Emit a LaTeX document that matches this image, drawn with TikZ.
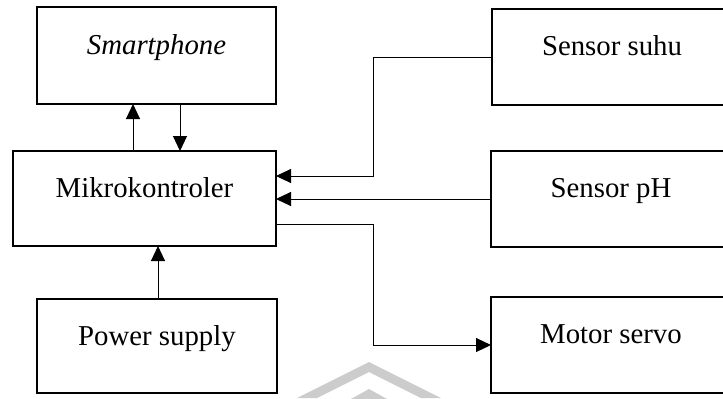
\documentclass[tikz,border=0pt]{standalone}
\usepackage{fontspec}
\setmainfont{Liberation Serif}
\usetikzlibrary{arrows.meta}
\begin{document}
\begin{tikzpicture}[x=0.5pt,y=-0.5pt,
  blok/.style={draw,line width=1.1pt,rectangle,inner sep=0pt,outer sep=0pt},
  teks/.style={anchor=base,inner sep=0pt,font=\fontsize{14.4}{17}\selectfont},
  panah/.style={line width=0.5pt,-{Triangle[length=7.5pt,width=7pt]}},
  tanda/.style={fill=black!20,draw=none}]
\useasboundingbox (0,0) rectangle (723,398);
\begin{scope}
\clip (0,0) rectangle (723,398);
% faint chevrons along the bottom edge
\fill[tanda] (297,398) -- (369,362) -- (441,398) -- (421,398) -- (369,372) -- (317,398) -- cycle;
\fill[tanda] (351,399) -- (369,389) -- (387,399) -- cycle;

% blocks
\node[blok,minimum width=119.5pt,minimum height=48.5pt] (smart) at (156.5,55.5) {};
\node[blok,minimum width=131.5pt,minimum height=47.5pt] (mikro) at (144.5,198.5) {};
\node[blok,minimum width=120pt,minimum height=47pt] (power) at (157,346) {};
\node[blok,minimum width=120pt,minimum height=48pt] (suhu) at (612,57) {};
\node[blok,minimum width=120pt,minimum height=48pt] (ph) at (611,199) {};
\node[blok,minimum width=120pt,minimum height=48pt] (motor) at (611,345) {};
\end{scope}

% labels
\node[teks] (smartT) at ([yshift=-23.5pt]smart.north) {\itshape Smartphone};
\node[teks] (mikroT) at ([yshift=-23pt]mikro.north) {Mikrokontroler};
\node[teks] (powerT) at ([yshift=-23pt]power.north) {Power supply};
\node[teks] (suhuT) at ([yshift=-23pt]suhu.north) {Sensor suhu};
\node[teks] (phT) at ([yshift=-23pt]ph.north) {Sensor pH};
\node[teks] (motorT) at ([yshift=-23pt]motor.north) {Motor servo};

% routing guides
\coordinate (xa) at (133,0);
\coordinate (xb) at (180,0);
\coordinate (xc) at (373,0);
\coordinate (xd) at (158,0);
\coordinate (ya) at (0,176);
\coordinate (yb) at (0,224);

% connectors
\draw[panah] (mikro.north -| xa) -- (smart.south -| xa);
\draw[panah] (smart.south -| xb) -- (mikro.north -| xb);
\draw[panah] (power.north -| xd) -- (mikro.south -| xd);
\draw[panah] (suhu.west) -| (xc |- ya) -- (mikro.east |- ya);
\draw[panah] (ph.west) -- (mikro.east |- ph.west);
\draw[panah] (mikro.east |- yb) -| (xc |- motor.west) -- (motor.west);
\end{tikzpicture}
\end{document}
